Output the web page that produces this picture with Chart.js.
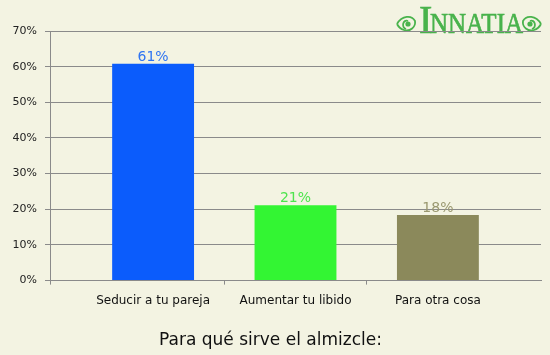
<!DOCTYPE html>
<html>
<head>
<meta charset="utf-8">
<script src="https://cdn.jsdelivr.net/npm/chart.js@4.4.1/dist/chart.umd.min.js"></script>
<style>
  html, body { margin: 0; padding: 0; background: #f3f3e2; }
  #wrap { width: 550px; height: 355px; position: relative; }
</style>
</head>
<body>
<div id="wrap"><canvas id="c" width="550" height="355"></canvas></div>
<script>
const categories = ['Seducir a tu pareja', 'Aumentar tu libido', 'Para otra cosa'];
const values = [60.8, 21.1, 18.4];
const valueLabels = ['61%', '21%', '18%'];
const barColors = ['#0b5cfc', '#33f533', '#8b895b'];
const labelColors = ['#2f74f2', '#4ee44e', '#9a9870'];
const titleText = 'Para qué sirve el almizcle:';

const FONT = "'DejaVu Sans', sans-serif";
const GRID = '#8a8a8a';

const bgPlugin = {
  id: 'bg',
  beforeDraw(chart) {
    const ctx = chart.ctx;
    ctx.save();
    ctx.fillStyle = '#f3f3e2';
    ctx.fillRect(0, 0, chart.width, chart.height);
    // logo
    const green = '#49b34c';
    ctx.fillStyle = green;
    ctx.strokeStyle = green;
    ctx.lineWidth = 0.7;
    ctx.textBaseline = 'alphabetic';
    ctx.font = "40px 'Liberation Serif', serif";
    ctx.fillText('I', 419, 33);
    ctx.strokeText('I', 419, 33);
    ctx.font = "30px 'Liberation Serif', serif";
    const w = ctx.measureText('NNATIA').width;
    ctx.save();
    ctx.translate(430, 33);
    ctx.scale(93 / w, 1);
    ctx.fillText('NNATIA', 0, 0);
    ctx.strokeText('NNATIA', 0, 0);
    ctx.restore();
    // ornaments
    function orn(cx, cy, dir) {
      ctx.save();
      ctx.translate(cx, cy);
      ctx.scale(dir, 1);
      ctx.lineWidth = 1.8;
      ctx.beginPath();
      ctx.moveTo(-9, 0);
      ctx.bezierCurveTo(-4, -9, 6, -9, 9, -3);
      ctx.bezierCurveTo(10, 3, 4, 8, -2, 6);
      ctx.bezierCurveTo(-5, 5, -8, 2, -9, 0);
      ctx.stroke();
      ctx.beginPath();
      ctx.arc(2, 0, 2.6, 0, Math.PI * 2);
      ctx.fill();
      ctx.beginPath();
      ctx.moveTo(2, -3);
      ctx.bezierCurveTo(-3, -5, -5, 3, 0, 5);
      ctx.stroke();
      ctx.restore();
    }
    orn(406, 24, 1);
    orn(532, 24, -1);
    ctx.restore();
  }
};

const valueLabelPlugin = {
  id: 'valueLabels',
  afterDatasetsDraw(chart) {
    const ctx = chart.ctx;
    const meta = chart.getDatasetMeta(0);
    ctx.save();
    ctx.font = "14px " + FONT;
    ctx.textAlign = 'center';
    ctx.textBaseline = 'alphabetic';
    meta.data.forEach((bar, i) => {
      ctx.fillStyle = labelColors[i];
      ctx.fillText(valueLabels[i], bar.x, bar.y - 3);
    });
    ctx.restore();
  }
};

new Chart(document.getElementById('c'), {
  type: 'bar',
  data: {
    datasets: [{
      data: values.map((v, i) => ({ x: i, y: v })),
      backgroundColor: barColors,
      borderWidth: 0,
      barPercentage: 1.15,
      categoryPercentage: 1
    }]
  },
  options: {
    responsive: false,
    animation: false,
    events: [],
    layout: { padding: { top: 31, right: 9, left: 0, bottom: 0 } },
    plugins: {
      legend: { display: false },
      tooltip: { enabled: false },
      title: {
        display: true,
        position: 'bottom',
        text: titleText,
        color: '#111',
        font: { family: FONT, size: 17, weight: 'normal' },
        padding: { top: 15, bottom: 4 }
      }
    },
    scales: {
      x: {
        type: 'linear',
        min: -0.724,
        max: 2.724,
        offset: false,
        afterBuildTicks: (s) => { s.ticks = [-0.724, 0, 0.5, 1, 1.5, 2].map(v => ({ value: v })); },
        afterFit: (s) => { s.height = 35; },
        ticks: {
          autoSkip: false,
          maxRotation: 0,
          minRotation: 0,
          padding: 9,
          color: '#111',
          font: { family: FONT, size: 12 },
          callback: (v) => Number.isInteger(v) ? categories[v] : ''
        },
        grid: {
          offset: false,
          drawOnChartArea: false,
          tickLength: 4,
          tickColor: (ctx) => (ctx.tick && Number.isInteger(ctx.tick.value)) ? 'rgba(0,0,0,0)' : GRID
        },
        border: { color: GRID, width: 1 }
      },
      y: {
        min: 0,
        max: 70,
        afterFit: (s) => { s.width = 50; },
        ticks: {
          stepSize: 10,
          padding: 8,
          color: '#222',
          font: { family: FONT, size: 11 },
          callback: (v) => v + '%'
        },
        grid: { color: GRID, tickLength: 5, lineWidth: 1 },
        border: { color: GRID, width: 1 }
      }
    }
  },
  plugins: [bgPlugin, valueLabelPlugin]
});
</script>
</body>
</html>
